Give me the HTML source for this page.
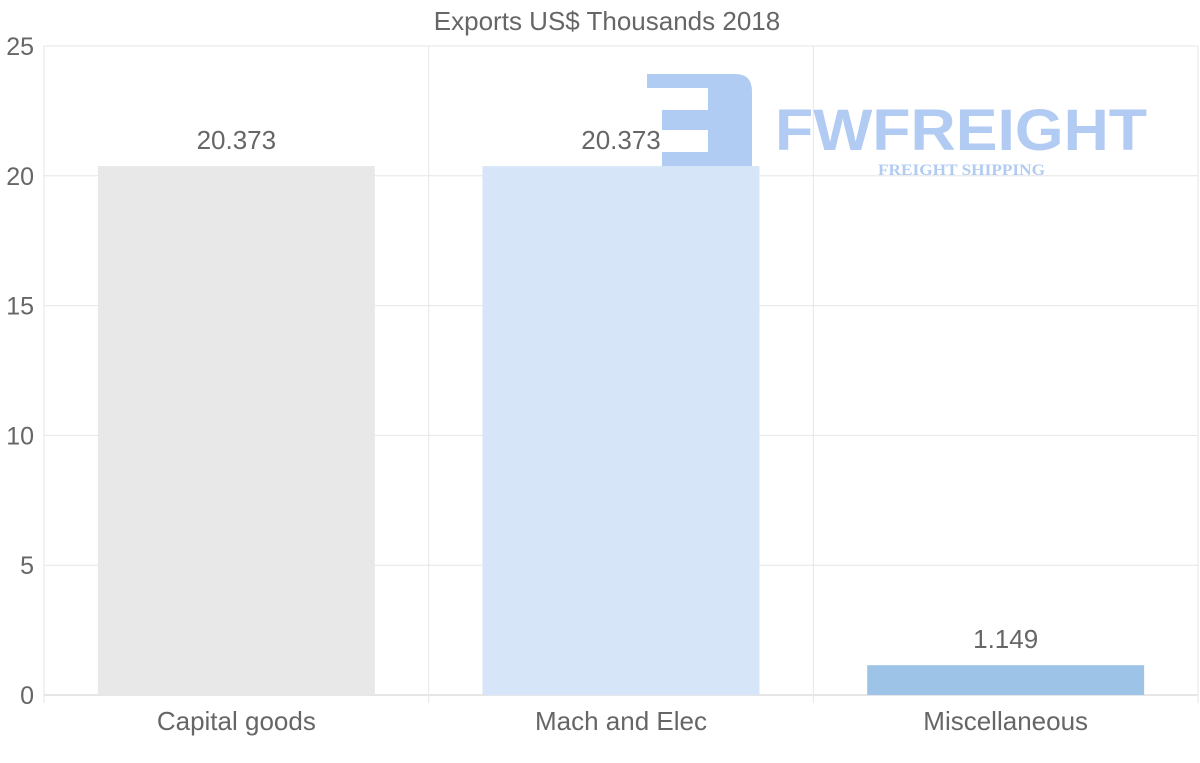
<!DOCTYPE html>
<html><head><meta charset="utf-8">
<style>
body{margin:0;background:#fff;}
svg{display:block;font-family:"Liberation Sans",sans-serif;}
</style></head>
<body>
<svg id="chart" width="1200" height="763" viewBox="0 0 1200 763" xmlns="http://www.w3.org/2000/svg">
<text x="607" y="30" text-anchor="middle" font-size="26" fill="#666">Exports US$ Thousands 2018</text>
<g id="grid"></g>
<g fill="#a9c6f2" opacity="0.9">
<path d="M647,74 H735 Q752,74 752,91 V167 H662 V152 H708 V130 H662 V110 H708 V88 H647 Z"/>
<text x="775" y="150" font-size="58" font-weight="bold" textLength="372" lengthAdjust="spacingAndGlyphs">FWFREIGHT</text>
<text x="878" y="175" font-size="16" font-weight="bold" font-family="Liberation Serif,serif" textLength="167" lengthAdjust="spacingAndGlyphs">FREIGHT SHIPPING</text>
</g>
<g id="bars"></g>
<g id="labels"></g>
</svg>
<script>
const categories=["Capital goods","Mach and Elec","Miscellaneous"];
const values=[20.373,20.373,1.149];
const valueLabels=["20.373","20.373","1.149"];
const yTicks=[0,5,10,15,20,25];
const colors=["#e8e8e8","#d6e6f8","#9dc3e6"];
const NS="http://www.w3.org/2000/svg";
const L=44,R=1198,T=46,B=695,YMAX=25;
const y=v=>B-(v/YMAX)*(B-T);
const cw=(R-L)/categories.length;
const x=i=>L+i*cw;
function mk(tag,attrs,parent,text){const e=document.createElementNS(NS,tag);for(const k in attrs)e.setAttribute(k,attrs[k]);if(text!==undefined)e.textContent=text;parent.appendChild(e);return e;}
const grid=document.getElementById('grid'),bars=document.getElementById('bars'),labels=document.getElementById('labels');
yTicks.forEach(t=>{
  const l=mk('line',{x1:L,x2:R,y1:y(t),y2:y(t),stroke:t===0?'#ccc':'#e6e6e6','stroke-width':1},grid);
  
  
  const tx=mk('text',{x:L-10,y:y(t)+9,'text-anchor':'end','font-size':25,fill:'#666'},grid,String(t));
  
  
});
for(let i=0;i<=categories.length;i++){
  const l=mk('line',{x1:x(i),x2:x(i),y1:T,y2:B+8,stroke:'#e6e6e6','stroke-width':1},grid);
  
  
}
categories.forEach((c,i)=>{
  const bw=cw*0.72,bx=x(i)+(cw-bw)/2;
  const r=mk('rect',{x:bx,y:y(values[i]),width:bw,height:B-y(values[i]),fill:colors[i]},bars);
  
  
  const v=mk('text',{x:x(i)+cw/2,y:y(values[i])-17,'text-anchor':'middle','font-size':26,fill:'#666'},labels,valueLabels[i]);
  
  
  const t=mk('text',{x:x(i)+cw/2,y:730,'text-anchor':'middle','font-size':26,fill:'#666'},labels,c);
  
  
});
</script>
</body></html>
